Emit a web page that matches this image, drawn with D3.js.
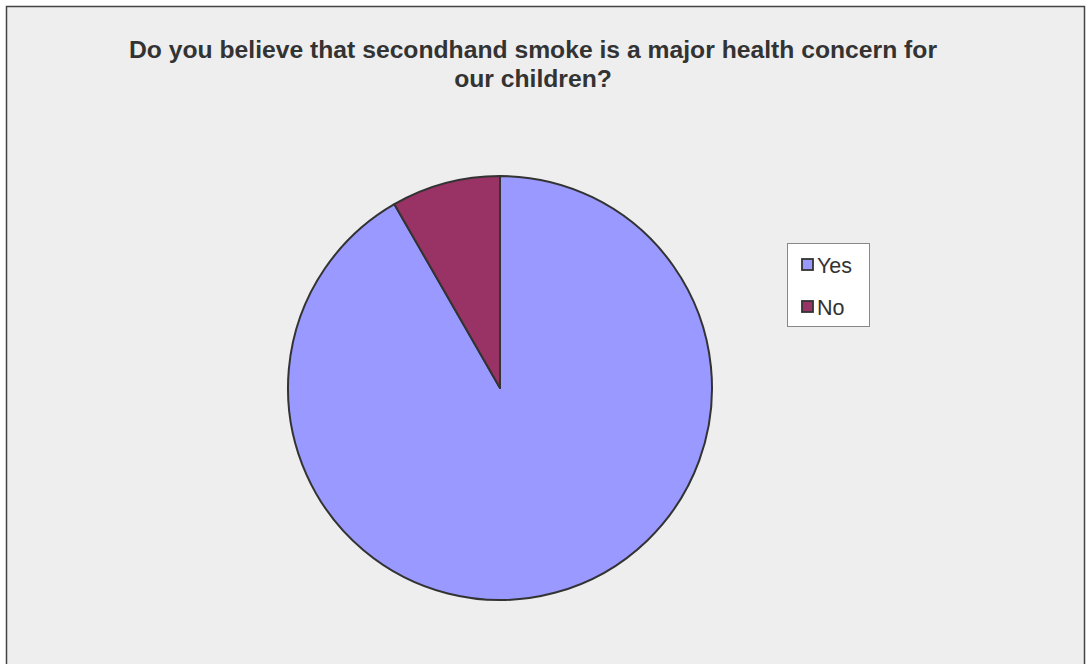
<!DOCTYPE html>
<html>
<head>
<meta charset="utf-8">
<script src="https://cdn.jsdelivr.net/npm/d3@7"></script>
<style>
  html, body { margin: 0; padding: 0; background: #ffffff; }
  svg { display: block; }
</style>
</head>
<body>
<svg id="chart" width="1089" height="664"></svg>
<script>
const categories = ["Yes", "No"];
const values = [91.7, 8.3];
const colors = ["#9999FF", "#993366"];
const titleLines = ["Do you believe that secondhand smoke is a major health concern for", "our children?"];

const svg = d3.select("#chart");
const font = "'Liberation Sans', Arial, sans-serif";

// chart area background and border
svg.append("rect")
  .attr("x", 6.5).attr("y", 6.5)
  .attr("width", 1078).attr("height", 670)
  .attr("fill", "#EEEEEE")
  .attr("stroke", "#444444")
  .attr("stroke-width", 1.5);

// title
const title = svg.append("text")
  .attr("text-anchor", "middle")
  .attr("font-family", font)
  .attr("font-weight", "bold")
  .attr("font-size", 24.7)
  .attr("fill", "#333333");
titleLines.forEach((t, i) => {
  title.append("tspan")
    .attr("x", 533)
    .attr("y", 58 + i * 29)
    .text(t);
});

// pie
const cx = 500, cy = 388, r = 212;
const pie = d3.pie().sort(null).value(d => d.value);
const data = categories.map((c, i) => ({ name: c, value: values[i], color: colors[i] }));
const arc = d3.arc().innerRadius(0).outerRadius(r);

const g = svg.append("g").attr("transform", `translate(${cx},${cy})`);
g.selectAll("path")
  .data(pie(data))
  .join("path")
  .attr("d", arc)
  .attr("fill", d => d.data.color)
  .attr("stroke", "#333333")
  .attr("stroke-width", 2)
  .attr("stroke-linejoin", "round");

// legend
const lg = svg.append("g");
lg.append("rect")
  .attr("x", 787.5).attr("y", 243.5)
  .attr("width", 82).attr("height", 83)
  .attr("fill", "#FFFFFF")
  .attr("stroke", "#888888")
  .attr("stroke-width", 1);

const yScale = d3.scalePoint().domain(categories).range([265, 307]);
categories.forEach((c, i) => {
  const y = yScale(c);
  lg.append("rect")
    .attr("x", 802).attr("y", y - 6)
    .attr("width", 11).attr("height", 11)
    .attr("fill", colors[i])
    .attr("stroke", "#333333")
    .attr("stroke-width", 1.8);
  lg.append("text")
    .attr("x", 817).attr("y", y + 7.5)
    .attr("font-family", font)
    .attr("font-size", 21.5)
    .attr("fill", "#333333")
    .text(c);
});
</script>
</body>
</html>
